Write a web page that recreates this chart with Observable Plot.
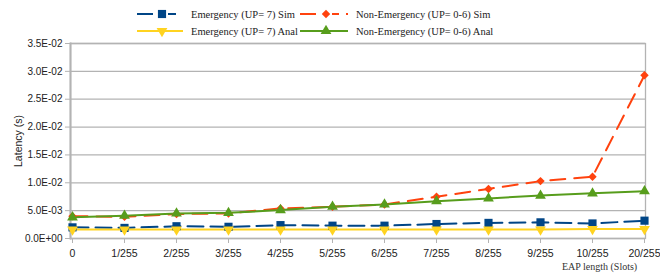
<!DOCTYPE html>
<html>
<head>
<meta charset="utf-8">
<script src="https://cdn.jsdelivr.net/npm/d3@7"></script>
<script src="https://cdn.jsdelivr.net/npm/@observablehq/plot@0.6"></script>
<style>
  html, body { margin: 0; padding: 0; background: #fff; }
  #wrap { position: relative; width: 660px; height: 276px; }
  .leg { position: absolute; display: flex; align-items: center; font-family: "Liberation Serif", serif; font-size: 10.5px; color: #222; white-space: nowrap; }
  .leg svg { display: block; margin-right: 8px; }
  .xtitle { position: absolute; font-family: "Liberation Serif", serif; font-size: 10px; color: #333; }
</style>
</head>
<body>
<div id="wrap"></div>
<script>
const categories = ["0", "1/255", "2/255", "3/255", "4/255", "5/255", "6/255", "7/255", "8/255", "9/255", "10/255", "20/255"];
const emergencySim    = [0.0020, 0.0019, 0.0022, 0.0021, 0.0024, 0.0023, 0.0023, 0.0026, 0.0028, 0.0029, 0.0027, 0.0032];
const nonEmergencySim = [0.0040, 0.0039, 0.0044, 0.0045, 0.0054, 0.0057, 0.0061, 0.0075, 0.0089, 0.0103, 0.0111, 0.0293];
const emergencyAnal   = [0.0016, 0.0016, 0.0016, 0.0016, 0.0016, 0.0016, 0.0016, 0.0016, 0.0016, 0.0016, 0.0017, 0.0017];
const nonEmergencyAnal= [0.0038, 0.0041, 0.0045, 0.0046, 0.0051, 0.0057, 0.0061, 0.0067, 0.0072, 0.0077, 0.0081, 0.0085];
const yTicks = [0, 0.005, 0.01, 0.015, 0.02, 0.025, 0.03, 0.035];
const seriesNames = ["Emergency (UP= 7) Sim", "Non-Emergency (UP= 0-6) Sim", "Emergency (UP= 7) Anal", "Non-Emergency (UP= 0-6) Anal"];

const styles = [
  {name: seriesNames[0], values: emergencySim, color: "#004586", dash: "16,7", symbol: "square", r: 4.6, rotate: 0},
  {name: seriesNames[1], values: nonEmergencySim, color: "#ff420e", dash: "15,9", symbol: "diamond2", r: 3.8, rotate: 0},
  {name: seriesNames[2], values: emergencyAnal, color: "#ffd320", dash: null, symbol: "triangle", r: 4.0, rotate: 180},
  {name: seriesNames[3], values: nonEmergencyAnal, color: "#579d1c", dash: null, symbol: "triangle", r: 4.0, rotate: 0}
];

const fmt = d => d.toExponential(1).replace(/e([+-])(\d)$/, "E$10$2");

const marks = [
  Plot.gridY(yTicks, {stroke: "#b3b3b3", strokeOpacity: 1, strokeWidth: 1.3}),
  Plot.frame({stroke: "#b3b3b3", strokeWidth: 1.3}),
  Plot.frame({anchor: "left", stroke: "#b3b3b3", strokeWidth: 2}),
  Plot.axisY(yTicks, {tickSize: 5, tickPadding: 3, stroke: "#b3b3b3", tickFormat: fmt,
    fontSize: 10, fill: "#222", fontFamily: "Liberation Sans, Arial, sans-serif",
    label: "Latency (s)", labelAnchor: "center", labelArrow: "none", labelOffset: 56}),
  Plot.axisX({tickSize: 5, tickPadding: 6, stroke: "#b3b3b3", fontSize: 10.5, fill: "#222",
    fontFamily: "Liberation Sans, Arial, sans-serif", label: null})
];
for (const s of styles) {
  const rows = categories.map((c, i) => ({cat: c, v: s.values[i]}));
  marks.push(Plot.line(rows, {x: "cat", y: "v", stroke: s.color, strokeWidth: 2,
    strokeDasharray: s.dash || undefined}));
}
for (const s of styles) {
  const rows = categories.map((c, i) => ({cat: c, v: s.values[i]}));
  marks.push(Plot.dot(rows, {x: "cat", y: "v", fill: s.color, stroke: "none",
    symbol: s.symbol, r: s.r, rotate: s.rotate}));
}

const chart = Plot.plot({
  width: 660, height: 276,
  marginLeft: 70, marginRight: 15, marginTop: 43, marginBottom: 38,
  style: {fontFamily: "Liberation Sans, Arial, sans-serif", background: "#fff", overflow: "visible"},
  x: {type: "point", domain: categories, padding: 0},
  y: {domain: [0, 0.035]},
  marks
});
const wrap = document.getElementById("wrap");
wrap.appendChild(chart);

// Y-axis label font size tweak
d3.select(chart).selectAll("g[aria-label='y-axis label'] text").attr("font-size", 10.5);

// Legend
const legendPos = [
  {x: 137, y: 14, w: 46}, {x: 300, y: 14, w: 48},
  {x: 137, y: 31, w: 46}, {x: 300, y: 31, w: 48}
];
styles.forEach((s, i) => {
  const p = legendPos[i];
  const div = document.createElement("div");
  div.className = "leg";
  div.style.left = p.x + "px";
  div.style.top = (p.y - 6) + "px";
  div.style.height = "12px";
  const svg = d3.create("svg").attr("width", p.w).attr("height", 12);
  const ln = svg.append("line").attr("x1", 0).attr("x2", p.w).attr("y1", 6).attr("y2", 6)
    .attr("stroke", s.color).attr("stroke-width", 2);
  if (s.dash) ln.attr("stroke-dasharray", "16,7");
  const sym = d3.symbol(s.symbol === "square" ? d3.symbolSquare : s.symbol === "diamond2" ? d3.symbolDiamond2 : d3.symbolTriangle, Math.PI * s.r * s.r);
  const cx = p.w / 2 + 2;
  if (s.dash) svg.append("rect").attr("x", cx - 6).attr("y", 0).attr("width", 12).attr("height", 12).attr("fill", "#fff");
  svg.append("path").attr("d", sym()).attr("fill", s.color)
    .attr("transform", `translate(${cx},6) rotate(${s.rotate})`);
  div.appendChild(svg.node());
  const t = document.createElement("span");
  t.textContent = s.name;
  div.appendChild(t);
  wrap.appendChild(div);
});

const xt = document.createElement("div");
xt.className = "xtitle";
xt.textContent = "EAP length (Slots)";
xt.style.left = "562px";
xt.style.top = "261px";
wrap.appendChild(xt);
</script>
</body>
</html>
